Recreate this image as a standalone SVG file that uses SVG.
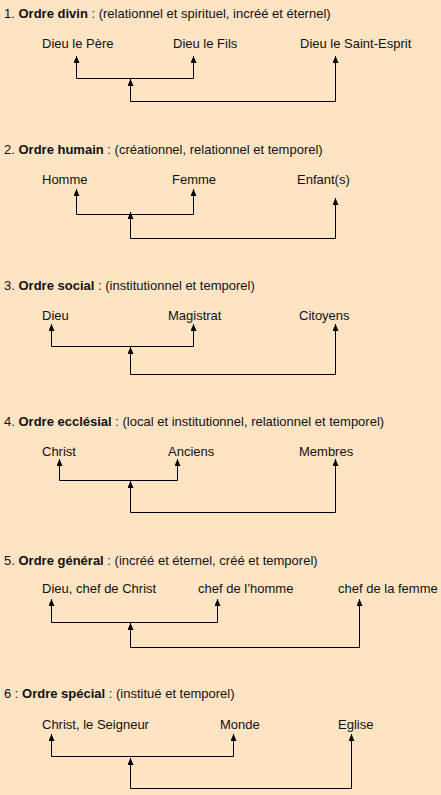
<svg xmlns="http://www.w3.org/2000/svg" width="441" height="795" viewBox="0 0 441 795">
<style>
text{font-family:"Liberation Sans",Arial,sans-serif;font-size:13px;fill:#111}
.b{font-weight:bold}
.c path{fill:none;stroke:#000;stroke-width:1}
.a{marker-end:url(#ah)}
</style>
<defs>
<marker id="ah" markerUnits="userSpaceOnUse" markerWidth="7" markerHeight="6" refX="7" refY="3" orient="auto">
<path d="M0,0 L7,3 L0,6 z" fill="#000"/>
</marker>
</defs>
<rect width="441" height="795" fill="#FFE4C4"/>

<g id="titles">
<text x="4" y="18">1. <tspan class="b">Ordre divin</tspan> : (relationnel et spirituel, incréé et éternel)</text>
<text x="4" y="154">2. <tspan class="b">Ordre humain</tspan> : (créationnel, relationnel et temporel)</text>
<text x="4" y="290">3. <tspan class="b">Ordre social</tspan> : (institutionnel et temporel)</text>
<text x="4" y="426">4. <tspan class="b">Ordre ecclésial</tspan> : (local et institutionnel, relationnel et temporel)</text>
<text x="4" y="565">5. <tspan class="b">Ordre général</tspan> : (incréé et éternel, créé et temporel)</text>
<text x="4" y="698">6 : <tspan class="b">Ordre spécial</tspan> : (institué et temporel)</text>
</g>

<g id="n1a"><text x="42" y="48">Dieu le Père</text></g>
<g id="n1b"><text x="173" y="48">Dieu le Fils</text></g>
<g id="n1c"><text x="300" y="48">Dieu le Saint-Esprit</text></g>

<g id="n2a"><text x="42" y="184">Homme</text></g>
<g id="n2b"><text x="172" y="184">Femme</text></g>
<g id="n2c"><text x="297" y="184">Enfant(s)</text></g>

<g id="n3a"><text x="42" y="320">Dieu</text></g>
<g id="n3b"><text x="168" y="320">Magistrat</text></g>
<g id="n3c"><text x="299" y="320">Citoyens</text></g>

<g id="n4a"><text x="42" y="456">Christ</text></g>
<g id="n4b"><text x="168" y="456">Anciens</text></g>
<g id="n4c"><text x="299" y="456">Membres</text></g>

<g id="n5a"><text x="42" y="593">Dieu, chef de Christ</text></g>
<g id="n5b"><text x="198" y="593">chef de l’homme</text></g>
<g id="n5c"><text x="338" y="593">chef de la femme</text></g>

<g id="n6a"><text x="42" y="729">Christ, le Seigneur</text></g>
<g id="n6b"><text x="220" y="729">Monde</text></g>
<g id="n6c"><text x="338" y="729">Eglise</text></g>

<g id="connectors" class="c">
<path class="a" d="M76.5,78.5 L76.5,56"/>
<path class="a" d="M76.5,78.5 L193.5,78.5 L193.5,56"/>
<path class="a" d="M130.5,101.5 L130.5,79"/>
<path class="a" d="M130.5,101.5 L335.5,101.5 L335.5,56"/>

<path class="a" d="M76.5,214.5 L76.5,189"/>
<path class="a" d="M76.5,214.5 L193.5,214.5 L193.5,189"/>
<path class="a" d="M130.5,238.5 L130.5,212"/>
<path class="a" d="M130.5,238.5 L335.5,238.5 L335.5,198"/>

<path class="a" d="M51.5,346.5 L51.5,324"/>
<path class="a" d="M51.5,346.5 L193.5,346.5 L193.5,324"/>
<path class="a" d="M130.5,374.5 L130.5,347"/>
<path class="a" d="M130.5,374.5 L335.5,374.5 L335.5,324"/>

<path class="a" d="M59.5,480.5 L59.5,459"/>
<path class="a" d="M59.5,480.5 L177.5,480.5 L177.5,459"/>
<path class="a" d="M130.5,512.5 L130.5,481"/>
<path class="a" d="M130.5,512.5 L335.5,512.5 L335.5,459"/>

<path class="a" d="M51.5,622.5 L51.5,599"/>
<path class="a" d="M51.5,622.5 L217.5,622.5 L217.5,599"/>
<path class="a" d="M130.5,647.5 L130.5,623"/>
<path class="a" d="M130.5,647.5 L359.5,647.5 L359.5,599"/>

<path class="a" d="M51.5,756.5 L51.5,734"/>
<path class="a" d="M51.5,756.5 L233.5,756.5 L233.5,734"/>
<path class="a" d="M130.5,788.5 L130.5,758"/>
<path class="a" d="M130.5,788.5 L351.5,788.5 L351.5,734"/>
</g>
</svg>
